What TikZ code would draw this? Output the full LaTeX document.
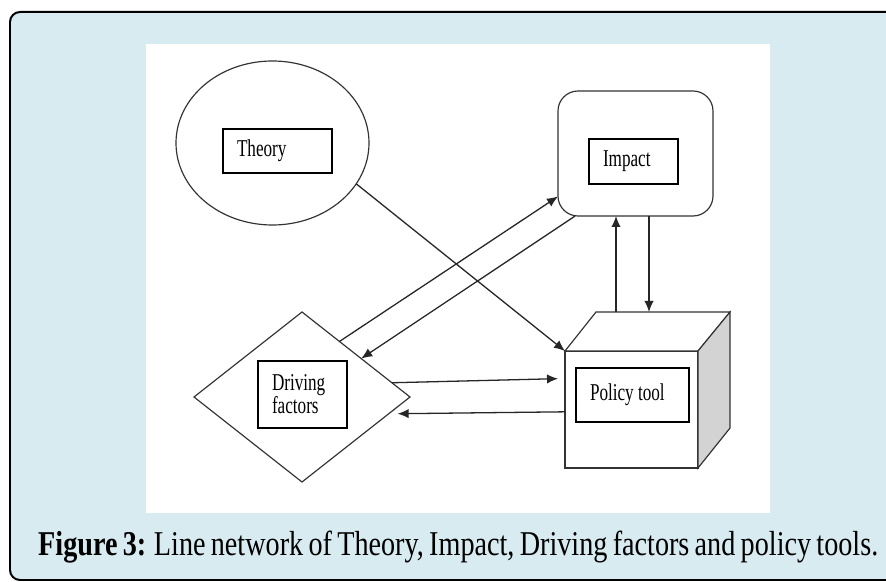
\documentclass[tikz,border=0pt]{standalone}
\usepackage{fontspec}
\usepackage{tikz}
\usetikzlibrary{arrows.meta,shapes.geometric,calc}
\newfontfamily\diagfont[FakeStretch=0.71]{Liberation Serif}
\newfontfamily\capfont[FakeStretch=0.81, WordSpace=0.75]{Liberation Serif}
\definecolor{panelblue}{RGB}{216,235,241}
\definecolor{sidegray}{RGB}{211,211,211}

\begin{document}
\begin{tikzpicture}[x=0.03cm, y=0.03cm,
  shape line/.style={draw=black!80, line width=1pt, outer sep=0pt},
  lbl/.style={draw, line width=1pt, inner xsep=0.42cm, inner ysep=0pt, align=flush left,
    font=\diagfont\fontsize{20.6}{19.6}\selectfont},
  link/.style={draw=black!85, line width=1.1pt, -{Latex[length=3.3mm, width=2.8mm]}}]
\clip (0,0) rectangle (886,582);
\path[draw, line width=1.7pt, fill=panelblue, rounded corners=0.3cm] (10,2) rectangle (920,570);
\path[fill=white] (146,69) rectangle (770,538);

\path (272.5,439) node (theory) [ellipse, shape line, minimum width=5.79cm, minimum height=4.92cm] {};
\path (635.5,428.5) node (impact) [rectangle, rounded corners=0.6cm, shape line, minimum width=4.65cm, minimum height=3.75cm] {};
\path (302,185) node (drive) [diamond, shape line, minimum width=6.48cm, minimum height=5.1cm] {};
\path (631.5,172.5) node (policy) [rectangle, shape line, fill=white, minimum width=3.99cm, minimum height=3.51cm] {};

\coordinate (ptop) at ($(policy.north west)+(31,39)$);
\coordinate (pback) at ($(policy.north east)+(32,39)$);
\coordinate (pbot) at ($(policy.south east)+(32,40)$);
\draw[shape line, fill=white] (policy.north west) -- (ptop) -- (pback) -- (policy.north east) -- cycle;
\draw[shape line, fill=sidegray] (policy.north east) -- (pback) -- (pbot) -- (policy.south east) -- cycle;

\path (277.5,431) node (theorytxt) [lbl, text width=2.43cm, minimum height=1.32cm] {Theory};
\path (633.5,420.5) node (impacttxt) [lbl, text width=1.83cm, minimum height=1.35cm] {Impact};
\path (302.5,187.5) node (drivetxt) [lbl, text width=1.83cm, minimum height=2.01cm] {Driving\\factors};
\path (632.5,187) node (policytxt) [lbl, text width=2.55cm, minimum height=1.62cm] {Policy tool};

\coordinate (up1) at ($(impact.south)+(-19.5,0)$);
\coordinate (dn1) at ($(impact.south)+(13.5,0)$);
\draw[link] (theory.-26) -- (policy.north west);
\draw[link] (drive.56.5) -- (impact.209);
\draw[link] (impact.226) -- (drive.33);
\draw[link, shorten >=0.21cm] (drive.9) -- (policy.155);
\draw[link, shorten >=0.27cm] (policy.182) -- (drive.-11);
\draw[link] (up1 |- ptop) -- (up1);
\draw[link] (dn1) -- (dn1 |- ptop);

\path (38,26) node (caption) [anchor=base west, inner sep=0pt, font=\capfont\fontsize{29.7}{32}\selectfont] {\textbf{Figure 3:} Line network of Theory, Impact, Driving factors and policy tools.};
\end{tikzpicture}
\end{document}
